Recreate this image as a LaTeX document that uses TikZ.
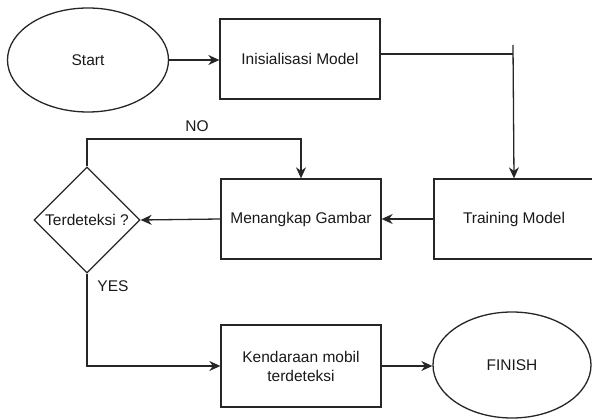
\documentclass[tikz,border=0pt]{standalone}
\usepackage{fontspec}
\setmainfont{Liberation Sans}
\usetikzlibrary{shapes.geometric,arrows.meta}
\begin{document}
\begin{tikzpicture}[x=1pt,y=-1pt,
  every node/.style={font=\fontsize{15.5}{19}\selectfont, text=black!90},
  conn/.style={line width=1.3pt, draw=black!85},
  arr/.style={conn, -{Stealth[length=11pt,width=10pt,inset=3.5pt]}},
  procbox/.style={draw=black!85, line width=1.3pt, rectangle, minimum width=160pt, minimum height=80pt, inner sep=0pt, align=center},
  term/.style={draw=black!85, line width=1.3pt, ellipse, inner sep=0pt},
  decide/.style={draw=black!85, line width=1.3pt, diamond, minimum width=106pt, minimum height=106pt, inner sep=0pt}]
\useasboundingbox (0,0) rectangle (592,419);
\node[term, minimum width=161pt, minimum height=104pt] (start) at (88,60) {Start};
\node[procbox] (init) at (300,59) {Inisialisasi Model};
\node[procbox] (train) at (514,219) {Training Model};
\node[procbox] (capt) at (301,219) {Menangkap Gambar};
\node[decide, label=center:{Terdeteksi ?}] (dec) at (87,220) {};
\node[procbox, minimum height=82pt] (kend) at (301,366) {Kendaraan mobil\\terdeteksi};
\node[term, minimum width=158pt, minimum height=106pt] (fin) at (512,365) {FINISH};
\coordinate (j) at (513,54);
\coordinate (jt) at (513,45);
\coordinate (nocorner) at (87,139);
\draw[arr] (start.east) -- (init.west |- start.east);
\draw[conn] (init.east |- j) -- (j);
\draw[arr] (jt) -- (train.north);
\draw[arr] (train.west) -- (capt.east);
\draw[arr] (capt.west) -- (dec.east);
\draw[arr] (dec.north) -- (nocorner) -| (capt.north);
\draw[arr] (dec.south) |- (kend.west);
\draw[arr] (kend.east) -- (fin.west |- kend.east);
\node (no) at (197,126) {NO};
\node (yes) at (113,286) {YES};
\end{tikzpicture}
\end{document}
